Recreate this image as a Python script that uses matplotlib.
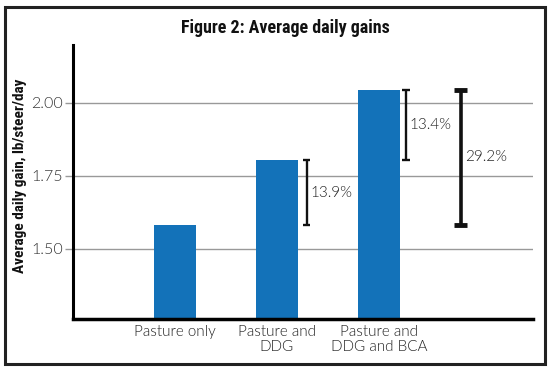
import matplotlib
matplotlib.use("Agg")
import matplotlib.pyplot as plt
from matplotlib.patches import Rectangle

categories = ["Pasture only", "Pasture and\nDDG", "Pasture and\nDDG and BCA"]
values = [1.58, 1.805, 2.045]
yticks = [1.50, 1.75, 2.00]
ytick_labels = ["1.50", "1.75", "2.00"]
pct_labels = ["13.9%", "13.4%", "29.2%"]

BLUE = "#1372b9"
light = dict(family=["Lato", "DejaVu Sans"], weight=300)
cond = dict(family=["Roboto Condensed", "DejaVu Sans"], weight="bold", stretch="condensed")

fig = plt.figure(figsize=(5.5, 3.68), dpi=100)
fig.patch.set_facecolor("white")
fig.patches.append(Rectangle((5/550, 1-364/368), 540/550, 357/368, transform=fig.transFigure,
                             fill=False, edgecolor="#222222", linewidth=2.2))

ax = fig.add_axes([73/550, 1-319/368, 460/550, 274/368])
x = list(range(len(categories)))
ax.bar(x, values, width=0.42, color=BLUE, zorder=3)
ax.set_xlim(-1.0, 3.51)
ax.set_ylim(1.259, 2.198)
ax.set_yticks(yticks)
ax.set_yticklabels(ytick_labels, **light, fontsize=11.5, color="#333333")
ax.set_xticks(x)
ax.set_xticklabels(categories, **light, fontsize=11, color="#222222", linespacing=1.1)
ax.tick_params(axis="x", length=0, pad=4)
ax.tick_params(axis="y", length=6, color="#999999", width=1, pad=1)
ax.grid(axis="y", color="#999999", linewidth=1, zorder=0)
for s in ["top", "right"]:
    ax.spines[s].set_visible(False)
ax.spines["left"].set_linewidth(2.2)
ax.spines["bottom"].set_linewidth(2.5)
ax.spines["left"].set_zorder(4)
ax.spines["bottom"].set_zorder(4)

def bracket(xc, y0, y1, cap, lw, caplw):
    ax.plot([xc, xc], [y0, y1], color="#111111", lw=lw, zorder=5, solid_capstyle="butt")
    for yy in (y0, y1):
        ax.plot([xc-cap, xc+cap], [yy, yy], color="#111111", lw=caplw, zorder=5,
                solid_capstyle="butt")

def label(xp, y0, y1, s):
    ax.text(xp, (y0 + y1) / 2, s, ha="left", va="center", fontsize=11, **light, color="#222222")

bracket(x[1] + 0.29, values[0], values[1], 0.035, 1.7, 1.7)
label(x[1] + 0.33, values[0], values[1], pct_labels[0])
bracket(x[2] + 0.265, values[1], values[2], 0.035, 1.7, 1.7)
label(x[2] + 0.30, values[1], values[2], pct_labels[1])
bracket(x[2] + 0.80, values[0], values[2], 0.065, 2.6, 3.5)
label(x[2] + 0.84, values[0], values[2], pct_labels[2])

fig.text(285/550, 1-28/368, "Figure 2: Average daily gains", ha="center", va="center",
         fontsize=13, **cond, color="#111111")
fig.text(20/550, 1-176/368, "Average daily gain, lb/steer/day", ha="center", va="center",
         rotation=90, fontsize=11, **cond, color="#111111")

fig.savefig("out.png", dpi=100)
